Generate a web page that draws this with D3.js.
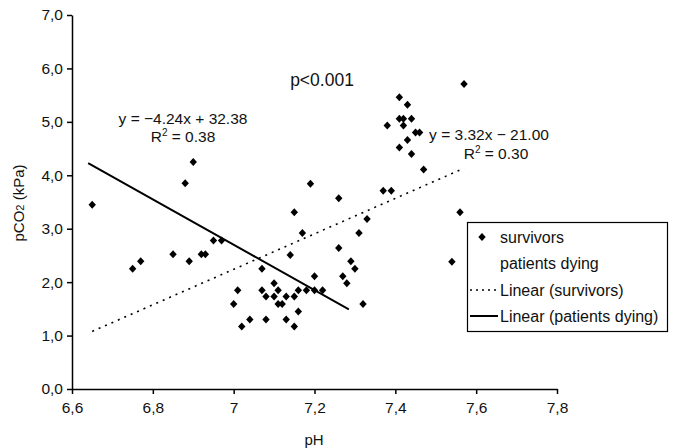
<!DOCTYPE html>
<html><head><meta charset="utf-8">
<script src="https://cdn.jsdelivr.net/npm/d3@7"></script>
<style>
body{margin:0;background:#fff;}
text{font-family:"Liberation Sans",Arial,sans-serif;fill:#111;}
</style></head>
<body><svg id="c" width="674" height="448"></svg>
<script>
// Survivors data (pH, pCO2 kPa)
const survivorsPH = [6.65,6.90,6.88,6.95,6.97,6.85,6.89,6.92,6.93,6.75,6.77,7.07,7.01,7.00,7.02,7.04,7.08,7.07,7.08,7.10,7.11,7.10,7.11,7.12,7.13,7.15,7.13,7.15,7.16,7.16,7.18,7.20,7.22,7.20,7.14,7.15,7.19,7.17,7.26,7.33,7.31,7.26,7.29,7.30,7.27,7.28,7.32,7.37,7.39,7.57,7.41,7.43,7.41,7.42,7.44,7.38,7.42,7.45,7.46,7.43,7.41,7.44,7.47,7.56,7.54];
const survivorsCO2 = [3.45,4.25,3.85,2.78,2.78,2.52,2.39,2.52,2.52,2.25,2.39,2.25,1.85,1.59,1.17,1.30,1.30,1.85,1.73,1.98,1.85,1.73,1.59,1.59,1.73,1.73,1.30,1.17,1.85,1.45,1.85,1.85,1.85,2.11,2.51,3.31,3.84,2.92,3.57,3.18,2.92,2.64,2.39,2.25,2.11,1.98,1.59,3.71,3.71,5.71,5.46,5.32,5.06,5.06,5.06,4.93,4.93,4.80,4.80,4.66,4.52,4.40,4.11,3.31,2.38];
// Linear trend lines: slope, intercept, pH range
const survivorsFit = {slope: 3.32, intercept: -21.00, from: 6.65, to: 7.57};
const dyingFit = {slope: -4.24, intercept: 32.38, from: 6.64, to: 7.285};
const xTicks = [6.6,6.8,7.0,7.2,7.4,7.6,7.8];
const xTickLabels = ["6,6","6,8","7","7,2","7,4","7,6","7,8"];
const yTicks = [0,1,2,3,4,5,6,7];
const yTickLabels = ["0,0","1,0","2,0","3,0","4,0","5,0","6,0","7,0"];
const legendLabels = ["survivors","patients dying","Linear (survivors)","Linear (patients dying)"];

const svg = d3.select("#c");
const x = d3.scaleLinear().domain([6.6,7.8]).range([72,557]);
const y = d3.scaleLinear().domain([0,7]).range([389,15]);

// axes
const xAxis = d3.axisBottom(x).tickValues(xTicks).tickFormat((d,i)=>xTickLabels[i]).tickSize(5).tickSizeOuter(0);
const yAxis = d3.axisLeft(y).tickValues(yTicks).tickFormat((d,i)=>yTickLabels[i]).tickSize(5).tickSizeOuter(0);
const gx = svg.append("g").attr("transform","translate(0,389)").call(xAxis);
const gy = svg.append("g").attr("transform","translate(72,0)").call(yAxis);
[gx,gy].forEach(g=>{
  g.selectAll("path,line").attr("stroke","#000").attr("stroke-width",1.5);
  g.selectAll("text").attr("font-size",15.5).attr("font-family","Liberation Sans, Arial, sans-serif").attr("fill","#222");
});
gx.selectAll("text").attr("dy","1.05em");
gy.selectAll("text").attr("dx","-1");

// axis titles
svg.append("text").attr("x",314).attr("y",445).attr("text-anchor","middle").attr("font-size",15).text("pH");
const yl = svg.append("text").attr("transform","translate(24,203) rotate(-90)").attr("text-anchor","middle").attr("font-size",15);
yl.append("tspan").text("pCO");
yl.append("tspan").attr("font-size",11).text("2");
yl.append("tspan").text(" (kPa)");

// trend lines
function fitLine(f){ return [[f.from, f.slope*f.from+f.intercept],[f.to, f.slope*f.to+f.intercept]]; }
const line = d3.line().x(d=>x(d[0])).y(d=>y(d[1]));
svg.append("path").attr("d",line(fitLine(survivorsFit))).attr("stroke","#000").attr("stroke-width",1.6).attr("stroke-dasharray","2,5").attr("fill","none");
svg.append("path").attr("d",line(fitLine(dyingFit))).attr("stroke","#000").attr("stroke-width",2).attr("fill","none");

// points
const diamond = "M0,-4L3.7,0L0,4L-3.7,0Z";
svg.append("g").selectAll("path").data(survivorsPH).join("path")
  .attr("transform",(d,i)=>`translate(${x(d)},${y(survivorsCO2[i])})`)
  .attr("d",diamond).attr("fill","#000");

// annotations
svg.append("text").attr("x",322).attr("y",86).attr("text-anchor","middle").attr("font-size",17.5).text("p<0.001");
svg.append("text").attr("x",183).attr("y",124).attr("text-anchor","middle").attr("font-size",15.5).text("y = \u22124.24x + 32.38");
const r1 = svg.append("text").attr("x",183).attr("y",142).attr("text-anchor","middle").attr("font-size",15.5);
r1.append("tspan").text("R");
r1.append("tspan").attr("font-size",10).attr("dy",-6).text("2");
r1.append("tspan").attr("dy",6).text(" = 0.38");
svg.append("text").attr("x",489).attr("y",140).attr("text-anchor","middle").attr("font-size",15.5).text("y = 3.32x \u2212 21.00");
const r2 = svg.append("text").attr("x",496).attr("y",159).attr("text-anchor","middle").attr("font-size",15.5);
r2.append("tspan").text("R");
r2.append("tspan").attr("font-size",10).attr("dy",-6).text("2");
r2.append("tspan").attr("dy",6).text(" = 0.30");

// legend
const lg = svg.append("g");
lg.append("rect").attr("x",467.5).attr("y",222.5).attr("width",200).attr("height",109).attr("fill","#fff").attr("stroke","#000").attr("stroke-width",1.2);
const ly = [237,263,290,316];
legendLabels.forEach((t,i)=>{
  lg.append("text").attr("x",500).attr("y",ly[i]+5.5).attr("font-size",16).text(t);
});
lg.append("path").attr("transform",`translate(482,${ly[0]})`).attr("d",diamond).attr("fill","#000");
lg.append("line").attr("x1",470).attr("x2",498).attr("y1",ly[2]).attr("y2",ly[2]).attr("stroke","#000").attr("stroke-width",1.6).attr("stroke-dasharray","2,4");
lg.append("line").attr("x1",470).attr("x2",498).attr("y1",ly[3]).attr("y2",ly[3]).attr("stroke","#000").attr("stroke-width",2);
</script></body></html>
